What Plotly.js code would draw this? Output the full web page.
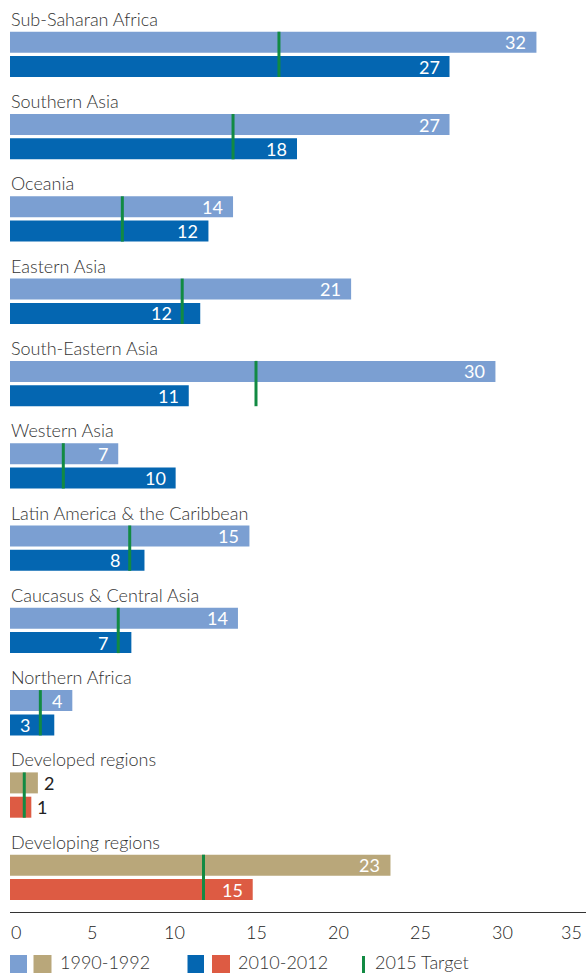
<!DOCTYPE html>
<html><head><meta charset="utf-8">
<script src="https://cdn.plot.ly/plotly-3.0.1.min.js"></script>
<style>html,body{margin:0;padding:0;background:#fff;overflow:hidden}#chart{width:586px;height:973px}</style>
</head><body><div id="chart"></div>
<script>
// ---- data ----
const categories = ["Sub-Saharan Africa","Southern Asia","Oceania","Eastern Asia","South-Eastern Asia","Western Asia","Latin America & the Caribbean","Caucasus & Central Asia","Northern Africa","Developed regions","Developing regions"];
const values1990 = [32.1, 26.8, 13.6, 20.8, 29.6, 6.6, 14.6, 13.9, 3.8, 1.7, 23.2];
const values2010 = [26.8, 17.5, 12.1, 11.6, 10.9, 10.1, 8.2, 7.4, 2.7, 1.3, 14.8];
const target2015 = [16.4, 13.6, 6.85, 10.5, 15.0, 3.25, 7.3, 6.6, 1.85, 0.87, 11.8];
const tickValues = [0, 5, 10, 15, 20, 25, 30, 35];
const tickLabels = ["0", "5", "10", "15", "20", "25", "30", "35"];
const seriesNames = ["1990-1992", "2010-2012", "2015 Target"];

// ---- styling / layout constants ----
const W = 586, H = 973, L = 10, PLOT_BOTTOM = 912;
const PX_PER_UNIT = 16.4;
const PITCH = 82.3, FIRST_CENTER = 42.2, BAR_H = 21, BAR_STEP = 24.3;
const FONT = 'Lato, "Open Sans", sans-serif';
const C = {lb:'#7b9fd2', db:'#0466b1', tan:'#b9a77a', red:'#dd5b43', green:'#128a43', text:'#333333'};

const xMax = (W - L) / PX_PER_UNIT;
const yBottom = (PLOT_BOTTOM - FIRST_CENTER) / PITCH;
const yTop = -FIRST_CENTER / PITCH;
const bw = BAR_H / PITCH, off = BAR_STEP / PITCH;

const idx = categories.map((_, i) => i);
const isAgg = categories.map(c => /regions$/.test(c));
const col1 = isAgg.map(a => a ? C.tan : C.lb);
const col2 = isAgg.map(a => a ? C.red : C.db);

const bar1 = {type:'bar', orientation:'h', x:values1990, y:idx, width:bw,
  marker:{color:col1, line:{width:0}}, hoverinfo:'none', name:seriesNames[0]};
const bar2 = {type:'bar', orientation:'h', x:values2010, y:idx.map(i => i + off), width:bw,
  marker:{color:col2, line:{width:0}}, hoverinfo:'none', name:seriesNames[1]};
const tx = [], ty = [];
target2015.forEach((t, i) => { tx.push(t, t, null); ty.push(i - bw/2, i + off + bw/2, null); });
const tgt = {type:'scatter', mode:'lines', x:tx, y:ty, line:{color:C.green, width:3},
  hoverinfo:'none', name:seriesNames[2]};

const ann = [];
categories.forEach((c, i) => {
  ann.push({x:0, y:i - bw/2, xref:'x', yref:'y', text:c, showarrow:false,
    xanchor:'left', yanchor:'bottom', xshift:-1, yshift:0,
    font:{family:FONT, size:18, weight:300, color:C.text}});
});
function valueLabel(v, y, t) {
  const inside = v > 2.2;
  const label = String(Math.round(v));
  let anchor = v;
  if (inside) {
    // keep the label clear of the target line
    const labelPx = label.length * 10 + 16;
    if (t < v && (v - t) * PX_PER_UNIT < labelPx) anchor = t;
  }
  ann.push({x:anchor, y:y, xref:'x', yref:'y', text:label, showarrow:false,
    xanchor: inside ? 'right' : 'left', yanchor:'middle', xshift: inside ? -8 : 4,
    font:{family:FONT, size:18, color: inside ? '#ffffff' : '#222222'}});
}
values1990.forEach((v, i) => valueLabel(v, i, target2015[i]));
values2010.forEach((v, i) => valueLabel(v, i + off, target2015[i]));

// x tick labels placed on the x axis scale (end labels kept inside the page)
tickValues.forEach((v, i) => {
  const first = i === 0, last = i === tickValues.length - 1;
  ann.push({x:v, y:0, xref:'x', yref:'paper', text:tickLabels[i], showarrow:false,
    xanchor: first ? 'left' : (last ? 'right' : 'center'), yanchor:'top',
    xshift: first ? -1 : 0, yshift:-7,
    font:{family:FONT, size:18, weight:300, color:'#222'}});
});

// legend (custom, pixel placed)
const px = x => (x - L) / (W - L);
const py = y => (PLOT_BOTTOM - y) / PLOT_BOTTOM;
const shapes = [];
function sq(x0, x1, color) {
  shapes.push({type:'rect', xref:'paper', yref:'paper', x0:px(x0), x1:px(x1), y0:py(955), y1:py(975),
    fillcolor:color, line:{width:0}});
}
sq(10, 27, C.lb); sq(33.5, 51.5, C.tan); sq(187.5, 204, C.db); sq(212, 230, C.red);
shapes.push({type:'line', xref:'paper', yref:'paper', x0:px(363.5), x1:px(363.5), y0:py(956), y1:py(975),
  line:{color:C.green, width:3}});
[[60, seriesNames[0]], [238, seriesNames[1]], [375, seriesNames[2]]].forEach(([x, t]) => {
  ann.push({xref:'paper', yref:'paper', x:px(x), y:py(949), text:t, showarrow:false,
    xanchor:'left', yanchor:'top', xshift:-2, font:{family:FONT, size:18, weight:300, color:C.text}});
});

const layout = {
  width:W, height:H, margin:{l:L, r:0, t:0, b:H - PLOT_BOTTOM, pad:0},
  paper_bgcolor:'#fff', plot_bgcolor:'#fff', showlegend:false, barmode:'overlay',
  xaxis:{range:[0, xMax], tickvals:tickValues, showticklabels:false, showgrid:false, zeroline:false,
    showline:true, linecolor:'#333', linewidth:1.3, ticks:'', fixedrange:true},
  yaxis:{range:[yBottom, yTop], visible:false, fixedrange:true},
  annotations:ann, shapes:shapes
};
Plotly.newPlot('chart', [bar1, bar2, tgt], layout, {staticPlot:true});
</script></body></html>
